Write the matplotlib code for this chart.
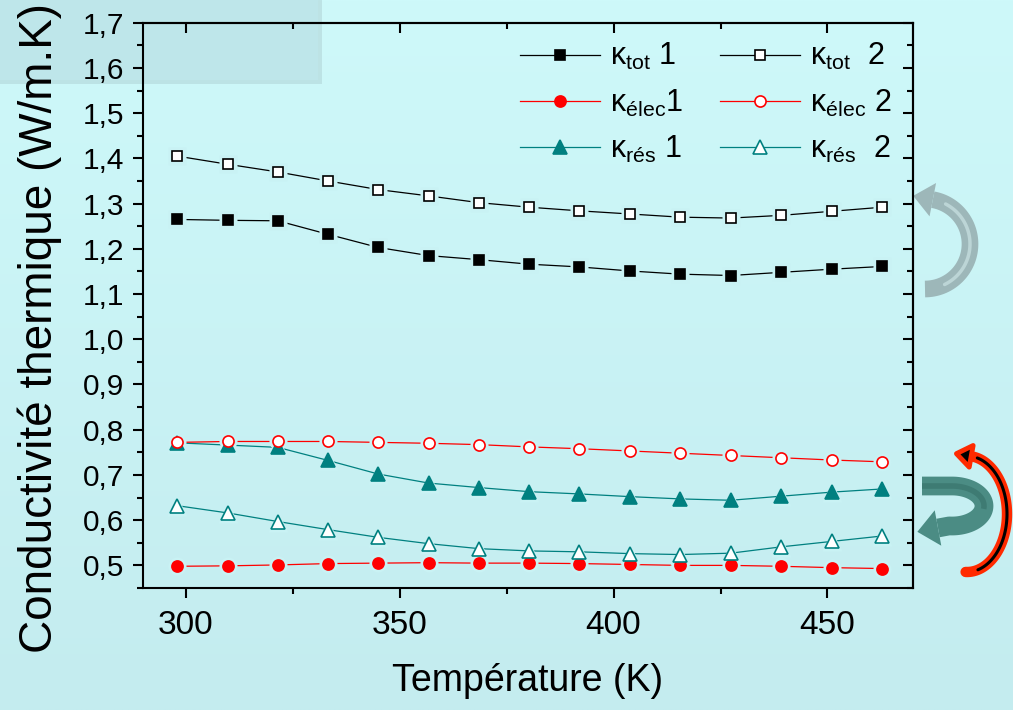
import numpy as np
import matplotlib
matplotlib.use("Agg")
import matplotlib.pyplot as plt
from matplotlib import font_manager
from matplotlib.patches import Rectangle, Polygon
from matplotlib.ticker import MultipleLocator, FuncFormatter
from matplotlib.lines import Line2D

# ---- data -------------------------------------------------------------
temperature = [298, 309.8, 321.5, 333.3, 345, 356.8, 368.6, 380.3, 392,
               403.9, 415.6, 427.4, 439.2, 451, 462.8]
k_tot_1 = [1.265, 1.263, 1.262, 1.232, 1.203, 1.185, 1.176, 1.166, 1.160,
           1.151, 1.144, 1.141, 1.148, 1.155, 1.161]
k_tot_2 = [1.405, 1.387, 1.370, 1.350, 1.331, 1.317, 1.302, 1.292, 1.284,
           1.277, 1.270, 1.268, 1.274, 1.283, 1.292]
k_elec_1 = [0.498, 0.499, 0.501, 0.504, 0.505, 0.506, 0.505, 0.505, 0.504,
            0.502, 0.500, 0.500, 0.498, 0.495, 0.493]
k_elec_2 = [0.772, 0.774, 0.774, 0.774, 0.772, 0.770, 0.767, 0.762, 0.758,
            0.753, 0.748, 0.743, 0.738, 0.733, 0.729]
k_res_1 = [0.771, 0.766, 0.761, 0.732, 0.702, 0.682, 0.672, 0.663, 0.658,
           0.652, 0.647, 0.644, 0.653, 0.662, 0.669]
k_res_2 = [0.632, 0.616, 0.597, 0.579, 0.562, 0.548, 0.537, 0.532, 0.530,
           0.526, 0.524, 0.527, 0.541, 0.553, 0.565]

x_ticks = [300, 350, 400, 450]
y_ticks = [0.5, 0.6, 0.7, 0.8, 0.9, 1.0, 1.1, 1.2, 1.3, 1.4, 1.5, 1.6, 1.7]

labels_1 = [r"κ$_{\mathregular{tot}}$ 1", r"κ$_{\mathregular{élec}}$1", r"κ$_{\mathregular{rés}}$ 1"]
labels_2 = [r"κ$_{\mathregular{tot}}$  2", r"κ$_{\mathregular{élec}}$ 2", r"κ$_{\mathregular{rés}}$  2"]

# ---- fonts ------------------------------------------------------------
available = {f.name for f in font_manager.fontManager.ttflist}
SANS = "Liberation Sans" if "Liberation Sans" in available else "DejaVu Sans"
plt.rcParams["font.family"] = [SANS, "DejaVu Sans"]
plt.rcParams["mathtext.fontset"] = "custom"
plt.rcParams["mathtext.rm"] = SANS
plt.rcParams["mathtext.it"] = SANS
plt.rcParams["mathtext.bf"] = SANS

W, H, DPI = 1013, 710, 100
fig = plt.figure(figsize=(W / DPI, H / DPI), dpi=DPI)

# background layer in pixel units (origin top-left)
bg = fig.add_axes([0, 0, 1, 1], zorder=-10)
grad = np.linspace(0, 1, 256)[:, None]
top = np.array([206, 249, 250]) / 255
bot = np.array([196, 236, 239]) / 255
img = top[None, None, :] * (1 - grad[..., None]) + bot[None, None, :] * grad[..., None]
bg.imshow(np.repeat(img, 4, axis=1), aspect="auto", extent=[0, W, H, 0])
bg.set_xlim(0, W)
bg.set_ylim(H, 0)
bg.axis("off")

# panel in the upper left corner with a soft shadow
bg.add_patch(Rectangle((0, 0), 322, 84, color="#aacbce", alpha=0.45, lw=0))
bg.add_patch(Rectangle((0, 0), 318, 80, color="#bee6ea", lw=0))


def ellipse_arc(cx, cy, rx, ry, a0, a1, n=80):
    t = np.radians(np.linspace(a0, a1, n))
    return cx + rx * np.cos(t), cy - ry * np.sin(t)


def head(xs, ys, length, width, color, ec=None, lw=0, z=3):
    tx, ty = xs[-1] - xs[-2], ys[-1] - ys[-2]
    nrm = np.hypot(tx, ty)
    tx, ty = tx / nrm, ty / nrm
    px, py = -ty, tx
    ex, ey = xs[-1], ys[-1]
    pts = [(ex + tx * length, ey + ty * length),
           (ex + px * width / 2, ey + py * width / 2),
           (ex - px * width / 2, ey - py * width / 2)]
    bg.add_patch(Polygon(pts, closed=True, fc=color, ec=ec or color, lw=lw,
                         joinstyle="round", zorder=z))


# grey arrow: half turn on the right of the upper curves
gx, gy = ellipse_arc(925, 244, 45, 45, -90, 80)
bg.plot(gx, gy, color="#9db7b9", lw=12, solid_capstyle="butt", zorder=2)
bg.plot(gx[12:-8], gy[12:-8], color="#bcd5d6", lw=2.5, solid_capstyle="round", zorder=2.5)
head(gx, gy, 20, 34, "#9db7b9", z=2)

# teal hook arrow
tx1, ty1 = [922, 952], [486, 486]
ex_, ey_ = ellipse_arc(952, 506, 32, 20, 90, -95)
tx = np.concatenate([tx1, ex_, [938]])
ty = np.concatenate([ty1, ey_, [528]])
bg.plot(tx, ty, color="#4b8c84", lw=13.5, solid_capstyle="butt", zorder=2,
        solid_joinstyle="round")
bg.plot(tx[:45], ty[:45], color="#3e7b73", lw=4, solid_capstyle="butt", zorder=2.5)
head(tx, ty, 21, 36, "#4b8c84", z=2)

# red arrow: half turn on the right of the lower curves
rx, ry = ellipse_arc(967, 514, 40, 58, -92, 84)
bg.plot(rx, ry, color="#ff2a00", lw=7.5, solid_capstyle="round", zorder=2)
bg.plot(rx[8:-4], ry[8:-4], color="black", lw=2.2, solid_capstyle="round", zorder=2.5)
head(rx, ry, 15, 22, "black", ec="#ff2a00", lw=3.5, z=2.6)

ax = fig.add_axes([143 / W, 1 - 588 / H, (913 - 143) / W, (588 - 22.7) / H])
ax.patch.set_alpha(0)

halo = "#c9f2f4"
series = [
    (k_tot_1, "black", "s", "black", 7.5),
    (k_elec_1, "red", "o", "red", 8),
    (k_res_1, "#008080", "^", "#008080", 10),
    (k_tot_2, "black", "s", "white", 7.5),
    (k_elec_2, "red", "o", "white", 8),
    (k_res_2, "#008080", "^", "white", 10),
]
handles = []
for vals, col, mk, face, ms in series:
    ax.plot(temperature, vals, "-", color=col, lw=0.9, zorder=2)
    ax.plot(temperature, vals, ls="none", marker=mk, ms=ms + 5, mfc=halo,
            mec="none", zorder=3)
    ax.plot(temperature, vals, ls="none", marker=mk, ms=ms, mfc=face,
            mec=col, mew=1.2, zorder=4)
    handles.append(Line2D([], [], color=col, lw=0.9, marker=mk, ms=ms,
                          mfc=face, mec=col, mew=1.2))

ax.set_xlim(290, 470)
ax.set_ylim(0.45, 1.7)
ax.xaxis.set_major_locator(plt.FixedLocator(x_ticks))
ax.xaxis.set_minor_locator(MultipleLocator(25))
ax.yaxis.set_major_locator(plt.FixedLocator(y_ticks))
ax.yaxis.set_minor_locator(MultipleLocator(0.05))
ax.yaxis.set_major_formatter(FuncFormatter(lambda v, p: f"{v:.1f}".replace(".", ",")))
ax.xaxis.set_major_formatter(FuncFormatter(lambda v, p: f"{v:.0f}"))

for s in ax.spines.values():
    s.set_linewidth(1.5)
ax.tick_params(which="major", direction="out", length=7.5, width=1.5,
               top=False, right=False)
ax.tick_params(which="minor", direction="out", length=4, width=1.5,
               top=False, right=False)
ax.tick_params(axis="y", labelsize=21.5, pad=6)
ax.tick_params(axis="x", labelsize=24, pad=8)

# inward ticks on the top and right edges
sx = ax.secondary_xaxis("top")
sx.xaxis.set_major_locator(plt.FixedLocator(x_ticks))
sx.xaxis.set_minor_locator(MultipleLocator(25))
sx.tick_params(which="major", direction="in", length=7.5, width=1.5, labeltop=False)
sx.tick_params(which="minor", direction="in", length=4, width=1.5)
sx.spines["top"].set_linewidth(1.5)
sy = ax.secondary_yaxis("right")
sy.yaxis.set_major_locator(plt.FixedLocator(y_ticks))
sy.yaxis.set_minor_locator(MultipleLocator(0.05))
sy.tick_params(which="major", direction="in", length=7.5, width=1.5, labelright=False)
sy.tick_params(which="minor", direction="in", length=4, width=1.5)
sy.spines["right"].set_linewidth(1.5)

ax.set_xlabel("Température (K)", fontsize=27, labelpad=16)
ax.set_ylabel("Conductivité thermique (W/m.K)", fontsize=33)
ax.yaxis.set_label_coords(-0.105, 0.46)

leg = ax.legend(handles, labels_1 + labels_2, ncol=2, loc="upper right",
                bbox_to_anchor=(1.0, 1.005), frameon=False, fontsize=22,
                handlelength=2.6, handletextpad=0.35, columnspacing=1.2,
                labelspacing=0.5, borderaxespad=0.3)

fig.savefig("out.png", dpi=DPI)
